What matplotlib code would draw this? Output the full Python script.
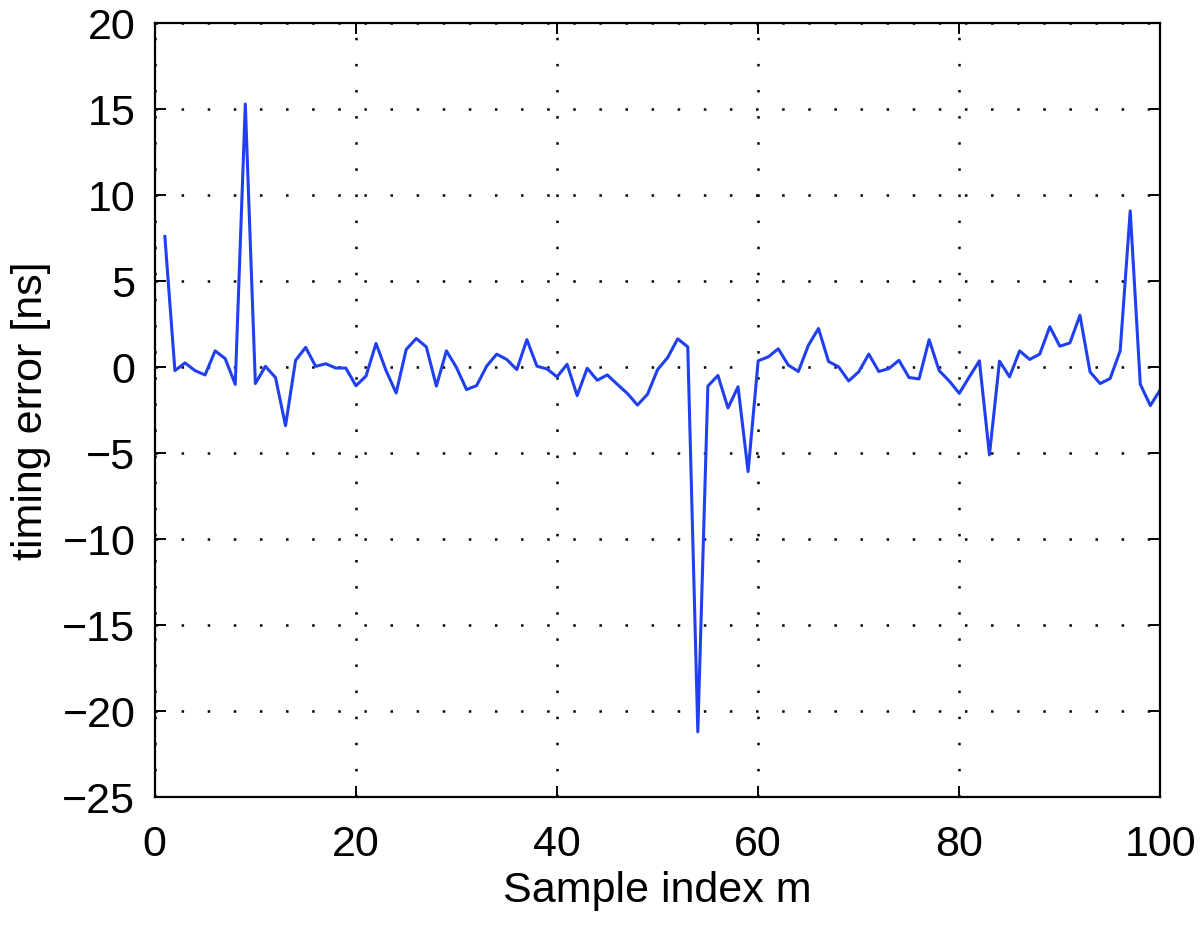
import numpy as np
import matplotlib
matplotlib.use('Agg')
import matplotlib.pyplot as plt

plt.rcParams['font.family'] = ['Liberation Sans', 'DejaVu Sans']
plt.rcParams['lines.scale_dashes'] = False

# sample index and timing error
m = np.arange(1, 101)
err = [7.6, -0.2, 0.25, -0.2, -0.45, 0.95, 0.5, -1.0, 15.3, -0.95,
       0.05, -0.6, -3.4, 0.4, 1.15, 0.05, 0.2, -0.05, -0.05, -1.08,
       -0.52, 1.38, -0.2, -1.5, 1.03, 1.67, 1.18, -1.1, 0.95, -0.02,
       -1.3, -1.07, 0.06, 0.76, 0.45, -0.14, 1.6, 0.06, -0.1, -0.56,
       0.17, -1.65, -0.06, -0.76, -0.45, -1.0, -1.53, -2.2, -1.57, -0.14,
       0.56, 1.65, 1.18, -21.2, -1.1, -0.48, -2.37, -1.14, -6.07, 0.37,
       0.6, 1.07, 0.12, -0.25, 1.28, 2.25, 0.33, 0.02, -0.8, -0.27,
       0.76, -0.25, -0.08, 0.4, -0.6, -0.68, 1.6, -0.2, -0.8, -1.52,
       -0.56, 0.37, -5.1, 0.35, -0.56, 0.95, 0.45, 0.76, 2.35, 1.22,
       1.41, 3.02, -0.27, -0.95, -0.66, 0.95, 9.09, -0.99, -2.23, -1.3]

xticks = [0, 20, 40, 60, 80, 100]
yticks = [-25, -20, -15, -10, -5, 0, 5, 10, 15, 20]

fig = plt.figure(figsize=(12, 9.27), dpi=100)
ax = fig.add_axes([0.129, 0.140, 0.838, 0.835])

ax.plot(m, err, color='#1f3ff0', linewidth=2.2)

ax.set_xlim(0, 100)
ax.set_ylim(-25, 20)
ax.set_xticks(xticks)
ax.set_yticks(yticks)
ax.grid(True, color='black', linestyle=(0, (1.8, 17.0)), linewidth=1.8)
ax.tick_params(direction='in', length=8, width=1.4, labelsize=31,
               top=True, right=True)
ax.tick_params(axis='y', pad=14)
ax.tick_params(axis='x', pad=20)
for s in ax.spines.values():
    s.set_linewidth(1.6)

ax.set_xlabel('Sample index m', fontsize=31, labelpad=4)
ax.set_ylabel('timing error [ns]', fontsize=31, labelpad=8)

fig.savefig('out.png', dpi=100)
